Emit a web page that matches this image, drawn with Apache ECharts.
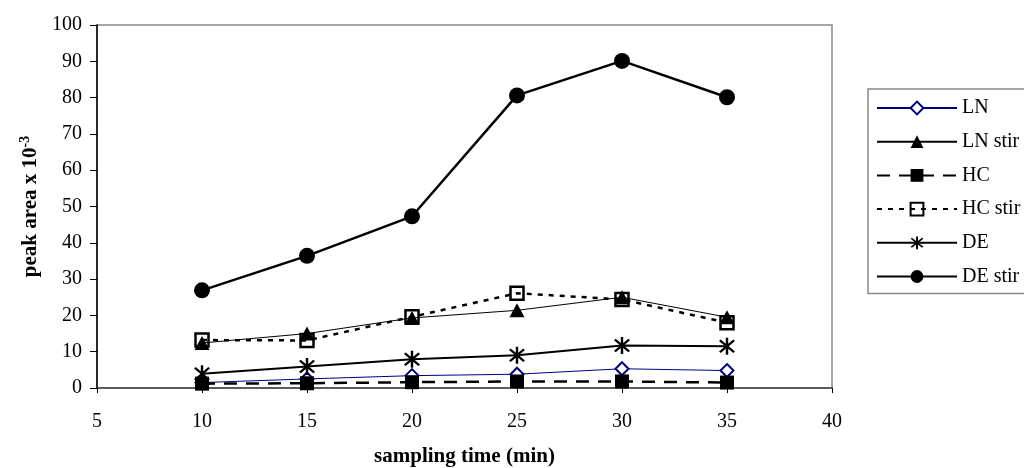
<!DOCTYPE html>
<html>
<head>
<meta charset="utf-8">
<script src="https://cdn.jsdelivr.net/npm/echarts@6/dist/echarts.min.js"></script>
<style>
  html, body { margin: 0; padding: 0; background: #fff; }
  #chart { width: 1024px; height: 468px; }
</style>
</head>
<body>
<div id="chart"></div>
<script>
// Sampling times (min)
const times = [10, 15, 20, 25, 30, 35];

// Peak areas (x 10^-3) per extraction condition
const lnValues     = [1.5, 2.5, 3.4, 3.8, 5.3, 4.8];
const lnStirValues = [12.4, 15.0, 19.3, 21.4, 25.0, 19.5];
const hcValues     = [1.2, 1.3, 1.6, 1.8, 1.8, 1.5];
const hcStirValues = [13.2, 13.1, 19.6, 26.1, 24.4, 18.0];
const deValues     = [3.9, 5.9, 7.9, 9.0, 11.7, 11.5];
const deStirValues = [26.9, 36.4, 47.3, 80.6, 90.1, 80.1];

const seriesNames = ['LN', 'LN stir', 'HC', 'HC stir', 'DE', 'DE stir'];

// Six-armed asterisk marker (vertical bar plus two diagonals)
const asterisk = 'path://M-1.2,-10L1.2,-10L1.2,10L-1.2,10Z' +
  'M-6.22,-7.92L7.92,6.22L6.22,7.92L-7.92,-6.22Z' +
  'M6.22,-7.92L7.92,-6.22L-6.22,7.92L-7.92,6.22Z';

const pairs = vals => times.map((t, i) => [t, vals[i]]);
const serif = '"Liberation Serif", "DejaVu Serif", serif';

const chart = echarts.init(document.getElementById('chart'));
chart.setOption({
  animation: false,
  backgroundColor: '#fff',
  textStyle: { fontFamily: serif },
  grid: {
    left: 97, right: 192, top: 25, bottom: 80,
    outerBoundsMode: 'none', containLabel: false,
    show: true, borderColor: '#888', borderWidth: 1.5, backgroundColor: 'transparent'
  },
  xAxis: {
    type: 'value', min: 5, max: 40, interval: 5,
    name: 'sampling time (min)', nameLocation: 'middle', nameGap: 58,
    nameTextStyle: { fontFamily: serif, fontSize: 21, fontWeight: 'bold', color: '#000' },
    axisLine: { lineStyle: { color: '#444', width: 1.5 } },
    axisTick: { length: 5, lineStyle: { color: '#000' } },
    axisLabel: { margin: 24, fontFamily: serif, fontSize: 20, color: '#000' },
    splitLine: { show: false }
  },
  yAxis: {
    type: 'value', min: 0, max: 100, interval: 10,
    name: 'peak area x 10{sup|-3}', nameLocation: 'middle', nameGap: 52, nameRotate: 90,
    nameTextStyle: {
      fontFamily: serif, fontSize: 21, fontWeight: 'bold', color: '#000',
      rich: { sup: { fontFamily: serif, fontSize: 14, fontWeight: 'bold', color: '#000', verticalAlign: 'top', padding: [0, 0, 10, 0] } }
    },
    axisLine: { show: true, lineStyle: { color: '#000', width: 1.5 } },
    axisTick: { show: true, length: 7, lineStyle: { color: '#000' } },
    axisLabel: { margin: 15, fontFamily: serif, fontSize: 20, color: '#000' },
    splitLine: { show: false }
  },
  legend: {
    orient: 'vertical', left: 868, top: 89,
    padding: [9, 120, 7, 8],
    itemWidth: 80, itemHeight: 16, itemGap: 13.7,
    borderColor: '#888', borderWidth: 1.5,
    textStyle: { fontFamily: serif, fontSize: 20, color: '#000' },
    data: seriesNames
  },
  series: [
    {
      name: 'LN', type: 'line', data: pairs(lnValues),
      symbol: 'diamond', symbolSize: [13, 13],
      lineStyle: { color: '#000080', width: 1 },
      itemStyle: { color: '#fff', borderColor: '#000080', borderWidth: 2 }, z: 2
    },
    {
      name: 'LN stir', type: 'line', data: pairs(lnStirValues),
      symbol: 'triangle', symbolSize: [15, 14],
      lineStyle: { color: '#000', width: 1 },
      itemStyle: { color: '#000' }, z: 3
    },
    {
      name: 'HC', type: 'line', data: pairs(hcValues),
      symbol: 'rect', symbolSize: [14, 14],
      lineStyle: { color: '#000', width: 2.5, type: [13, 9] },
      itemStyle: { color: '#000' }, z: 4
    },
    {
      name: 'HC stir', type: 'line', data: pairs(hcStirValues),
      symbol: 'rect', symbolSize: [13, 13],
      lineStyle: { color: '#000', width: 2.5, type: [5, 6] },
      itemStyle: { color: 'none', borderColor: '#000', borderWidth: 2.5 }, z: 5
    },
    {
      name: 'DE', type: 'line', data: pairs(deValues),
      symbol: asterisk, symbolSize: [16, 17],
      lineStyle: { color: '#000', width: 2 },
      itemStyle: { color: '#000' }, z: 6
    },
    {
      name: 'DE stir', type: 'line', data: pairs(deStirValues),
      symbol: 'circle', symbolSize: 16,
      lineStyle: { color: '#000', width: 2.5 },
      itemStyle: { color: '#000' }, z: 7
    }
  ]
});
</script>
</body>
</html>
